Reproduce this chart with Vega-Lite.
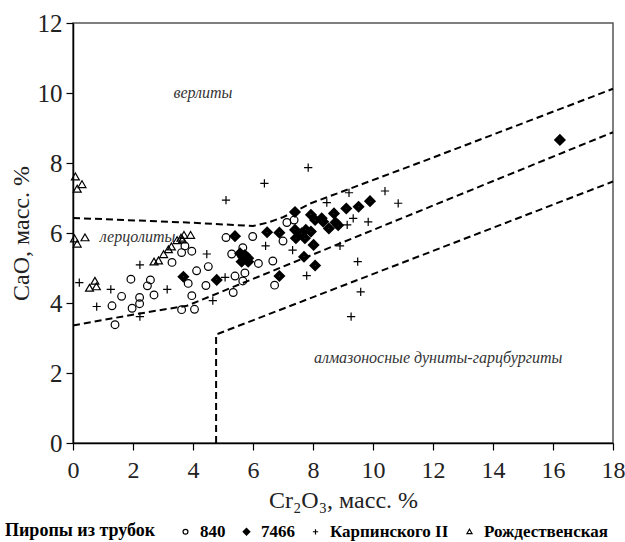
{
  "$schema": "https://vega.github.io/schema/vega-lite/v6.json",
  "width": 540,
  "height": 420,
  "autosize": "none",
  "padding": {"left": 73, "top": 23, "right": 12, "bottom": 99},
  "background": "white",
  "config": {"view": {"stroke": "#555", "strokeWidth": 1.5}, "font": "Liberation Serif"},
  "datasets": {
    "lines": [
      {"seg": "a", "o": 1, "x": 0, "y": 6.43},
      {"seg": "a", "o": 2, "x": 3.8, "y": 6.3},
      {"seg": "a", "o": 3, "x": 6.0, "y": 6.2},
      {"seg": "a", "o": 4, "x": 6.5, "y": 6.3},
      {"seg": "a", "o": 5, "x": 7.0, "y": 6.45},
      {"seg": "a", "o": 6, "x": 7.5, "y": 6.66},
      {"seg": "a", "o": 7, "x": 7.9, "y": 6.84},
      {"seg": "a", "o": 8, "x": 11.8, "y": 8.09},
      {"seg": "a", "o": 9, "x": 18, "y": 10.12},
      {"seg": "b", "o": 1, "x": 0, "y": 3.36},
      {"seg": "b", "o": 2, "x": 1.23, "y": 3.55},
      {"seg": "b", "o": 3, "x": 2.57, "y": 3.75},
      {"seg": "b", "o": 4, "x": 3.8, "y": 3.92},
      {"seg": "b", "o": 5, "x": 18, "y": 8.88},
      {"seg": "c", "o": 1, "x": 4.77, "y": 0},
      {"seg": "c", "o": 2, "x": 4.77, "y": 3.1},
      {"seg": "c", "o": 3, "x": 18, "y": 7.47}
    ],
    "labels": [
      {"x": 4.33, "y": 10.0, "t": "верлиты"},
      {"x": 2.15, "y": 5.89, "t": "лерцолиты"},
      {"x": 12.17, "y": 2.43, "t": "алмазоносные дуниты-гарцбургиты"}
    ],
    "points": [
      {"g": "840", "x": 1.3, "y": 3.92},
      {"g": "840", "x": 1.4, "y": 3.38},
      {"g": "840", "x": 1.62, "y": 4.19},
      {"g": "840", "x": 1.97, "y": 3.85},
      {"g": "840", "x": 1.93, "y": 4.68},
      {"g": "840", "x": 2.22, "y": 4.16},
      {"g": "840", "x": 2.22, "y": 3.98},
      {"g": "840", "x": 2.48, "y": 4.49},
      {"g": "840", "x": 2.58, "y": 4.66},
      {"g": "840", "x": 2.7, "y": 4.23},
      {"g": "840", "x": 3.3, "y": 5.16},
      {"g": "840", "x": 3.62, "y": 5.44},
      {"g": "840", "x": 3.73, "y": 5.63},
      {"g": "840", "x": 3.96, "y": 5.48},
      {"g": "840", "x": 3.62, "y": 3.81},
      {"g": "840", "x": 4.05, "y": 3.82},
      {"g": "840", "x": 3.84, "y": 4.56},
      {"g": "840", "x": 3.96, "y": 4.21},
      {"g": "840", "x": 4.12, "y": 4.92},
      {"g": "840", "x": 4.43, "y": 4.5},
      {"g": "840", "x": 4.51, "y": 5.04},
      {"g": "840", "x": 5.1, "y": 5.87},
      {"g": "840", "x": 5.99, "y": 5.9},
      {"g": "840", "x": 5.29, "y": 5.4},
      {"g": "840", "x": 5.4, "y": 4.77},
      {"g": "840", "x": 5.73, "y": 4.86},
      {"g": "840", "x": 5.66, "y": 4.63},
      {"g": "840", "x": 5.34, "y": 4.3},
      {"g": "840", "x": 6.18, "y": 5.13},
      {"g": "840", "x": 6.66, "y": 5.2},
      {"g": "840", "x": 6.72, "y": 4.51},
      {"g": "840", "x": 7.0, "y": 5.77},
      {"g": "840", "x": 7.13, "y": 6.3},
      {"g": "840", "x": 7.37, "y": 6.37},
      {"g": "840", "x": 5.66, "y": 5.58},
      {"g": "7466", "x": 3.68, "y": 4.75},
      {"g": "7466", "x": 4.79, "y": 4.66},
      {"g": "7466", "x": 5.4, "y": 5.91},
      {"g": "7466", "x": 5.57, "y": 5.42},
      {"g": "7466", "x": 5.65, "y": 5.35},
      {"g": "7466", "x": 5.73, "y": 5.37},
      {"g": "7466", "x": 5.84, "y": 5.28},
      {"g": "7466", "x": 5.62, "y": 5.18},
      {"g": "7466", "x": 5.84, "y": 5.18},
      {"g": "7466", "x": 5.68, "y": 5.3},
      {"g": "7466", "x": 6.47, "y": 6.02},
      {"g": "7466", "x": 6.88, "y": 6.01},
      {"g": "7466", "x": 6.88, "y": 4.77},
      {"g": "7466", "x": 7.4, "y": 6.6},
      {"g": "7466", "x": 7.4, "y": 6.09},
      {"g": "7466", "x": 7.43, "y": 5.85},
      {"g": "7466", "x": 7.62, "y": 5.99},
      {"g": "7466", "x": 7.76, "y": 6.09},
      {"g": "7466", "x": 7.73, "y": 5.85},
      {"g": "7466", "x": 7.7, "y": 5.32},
      {"g": "7466", "x": 8.07, "y": 5.07},
      {"g": "7466", "x": 7.93, "y": 6.52},
      {"g": "7466", "x": 8.07, "y": 6.37},
      {"g": "7466", "x": 8.29, "y": 6.42},
      {"g": "7466", "x": 8.34, "y": 6.32},
      {"g": "7466", "x": 8.7, "y": 6.56},
      {"g": "7466", "x": 8.75, "y": 6.3},
      {"g": "7466", "x": 8.53, "y": 6.13},
      {"g": "7466", "x": 8.84, "y": 6.22},
      {"g": "7466", "x": 9.11, "y": 6.7},
      {"g": "7466", "x": 9.52, "y": 6.75},
      {"g": "7466", "x": 9.9, "y": 6.91},
      {"g": "7466", "x": 7.93, "y": 6.04},
      {"g": "7466", "x": 8.02, "y": 5.66},
      {"g": "7466", "x": 16.23, "y": 8.66},
      {"g": "Карпинского II", "x": 0.21, "y": 4.58},
      {"g": "Карпинского II", "x": 0.79, "y": 3.9},
      {"g": "Карпинского II", "x": 1.26, "y": 4.39},
      {"g": "Карпинского II", "x": 2.23, "y": 5.09},
      {"g": "Карпинского II", "x": 2.23, "y": 3.61},
      {"g": "Карпинского II", "x": 3.14, "y": 4.39},
      {"g": "Карпинского II", "x": 4.46, "y": 5.4},
      {"g": "Карпинского II", "x": 4.66, "y": 4.07},
      {"g": "Карпинского II", "x": 5.07, "y": 4.73},
      {"g": "Карпинского II", "x": 5.1, "y": 6.94},
      {"g": "Карпинского II", "x": 6.38, "y": 7.42},
      {"g": "Карпинского II", "x": 6.42, "y": 5.63},
      {"g": "Карпинского II", "x": 7.32, "y": 5.51},
      {"g": "Карпинского II", "x": 7.79, "y": 4.78},
      {"g": "Карпинского II", "x": 7.84, "y": 7.87},
      {"g": "Карпинского II", "x": 8.46, "y": 6.87},
      {"g": "Карпинского II", "x": 8.9, "y": 5.63},
      {"g": "Карпинского II", "x": 9.14, "y": 6.23},
      {"g": "Карпинского II", "x": 9.2, "y": 7.15},
      {"g": "Карпинского II", "x": 9.34, "y": 6.42},
      {"g": "Карпинского II", "x": 9.84, "y": 6.32},
      {"g": "Карпинского II", "x": 10.4, "y": 7.2},
      {"g": "Карпинского II", "x": 10.84, "y": 6.85},
      {"g": "Карпинского II", "x": 9.49, "y": 5.18},
      {"g": "Карпинского II", "x": 9.59, "y": 4.32},
      {"g": "Карпинского II", "x": 9.27, "y": 3.61},
      {"g": "Рождественская", "x": 0.08, "y": 7.6},
      {"g": "Рождественская", "x": 0.3, "y": 7.38},
      {"g": "Рождественская", "x": 0.14, "y": 7.25},
      {"g": "Рождественская", "x": 0.05, "y": 5.83},
      {"g": "Рождественская", "x": 0.4, "y": 5.86},
      {"g": "Рождественская", "x": 0.14, "y": 5.68},
      {"g": "Рождественская", "x": 0.55, "y": 4.42},
      {"g": "Рождественская", "x": 0.73, "y": 4.62},
      {"g": "Рождественская", "x": 0.78, "y": 4.46},
      {"g": "Рождественская", "x": 2.7, "y": 5.17},
      {"g": "Рождественская", "x": 2.85, "y": 5.2},
      {"g": "Рождественская", "x": 3.02, "y": 5.38},
      {"g": "Рождественская", "x": 3.18, "y": 5.52},
      {"g": "Рождественская", "x": 3.28, "y": 5.6},
      {"g": "Рождественская", "x": 3.47, "y": 5.78},
      {"g": "Рождественская", "x": 3.6, "y": 5.85},
      {"g": "Рождественская", "x": 3.7, "y": 5.93},
      {"g": "Рождественская", "x": 3.92, "y": 5.93},
      {"g": "Рождественская", "x": 3.65, "y": 5.8}
    ]
  },
  "encoding": {
    "x": {
      "field": "x", "type": "quantitative",
      "scale": {"domain": [0, 18], "nice": false, "zero": false},
      "axis": {
        "title": "Cr₂O₃, масс. %",
        "values": [0, 2, 4, 6, 8, 10, 12, 14, 16, 18],
        "grid": false, "labelFlush": false,
        "domainColor": "black", "domainWidth": 1.5,
        "tickColor": "black", "tickSize": 7, "tickWidth": 1.2,
        "labelFont": "Liberation Serif", "labelFontSize": 24, "labelColor": "#222", "labelPadding": 8,
        "titleFont": "Liberation Serif", "titleFontSize": 24, "titleFontWeight": "normal", "titleColor": "#222", "titlePadding": 6
      }
    },
    "y": {
      "field": "y", "type": "quantitative",
      "scale": {"domain": [0, 12], "nice": false, "zero": false},
      "axis": {
        "title": "CaO, масс. %",
        "values": [0, 2, 4, 6, 8, 10, 12],
        "grid": false, "labelFlush": false,
        "domainColor": "black", "domainWidth": 1.5,
        "tickColor": "black", "tickSize": 7, "tickWidth": 1.2,
        "labelFont": "Liberation Serif", "labelFontSize": 25, "labelColor": "#222", "labelPadding": 4,
        "titleFont": "Liberation Serif", "titleFontSize": 24, "titleFontWeight": "normal", "titleColor": "#222", "titlePadding": 4
      }
    }
  },
  "layer": [
    {
      "data": {"name": "lines"},
      "mark": {"type": "line", "stroke": "black", "strokeWidth": 2, "strokeDash": [7, 4]},
      "encoding": {
        "detail": {"field": "seg", "type": "nominal"},
        "order": {"field": "o", "type": "quantitative"}
      }
    },
    {
      "data": {"name": "points"},
      "mark": {"type": "point", "filled": false, "stroke": "black", "strokeWidth": 1.2, "opacity": 1, "size": 121},
      "encoding": {
        "shape": {
          "field": "g", "type": "nominal",
          "scale": {
            "domain": ["840", "7466", "Карпинского II", "Рождественская"],
            "range": [
              "M-0.7,0A0.7,0.7 0 1,1 0.7,0A0.7,0.7 0 1,1 -0.7,0Z",
              "M-0.95,0L0,-0.95L0.95,0L0,0.95Z M-0.7,0L0,-0.7L0.7,0L0,0.7Z M-0.45,0L0,-0.45L0.45,0L0,0.45Z M-0.2,0L0,-0.2L0.2,0L0,0.2Z",
              "M-0.75,0L0.75,0M0,-0.75L0,0.75",
              "M0,-0.72L0.72,0.52L-0.72,0.52Z"
            ]
          },
          "legend": {
            "title": "Пиропы из трубок",
            "orient": "none", "legendX": -68, "legendY": 500,
            "direction": "horizontal", "titleOrient": "left",
            "titleFont": "Liberation Serif", "titleFontSize": 18, "titleFontWeight": "bold", "titleColor": "black",
            "labelFont": "Liberation Serif", "labelFontSize": 17, "labelFontWeight": "bold", "labelColor": "black",
            "symbolSize": 49, "symbolStrokeColor": "black", "symbolStrokeWidth": 1.2, "symbolFillColor": "transparent",
            "columnPadding": 12, "labelOffset": 6, "titlePadding": 21, "padding": 0
          }
        }
      }
    },
    {
      "data": {"name": "labels"},
      "mark": {"type": "text", "font": "Liberation Serif", "fontStyle": "italic", "fontSize": 16, "fill": "#333"},
      "encoding": {"text": {"field": "t", "type": "nominal"}}
    }
  ]
}
